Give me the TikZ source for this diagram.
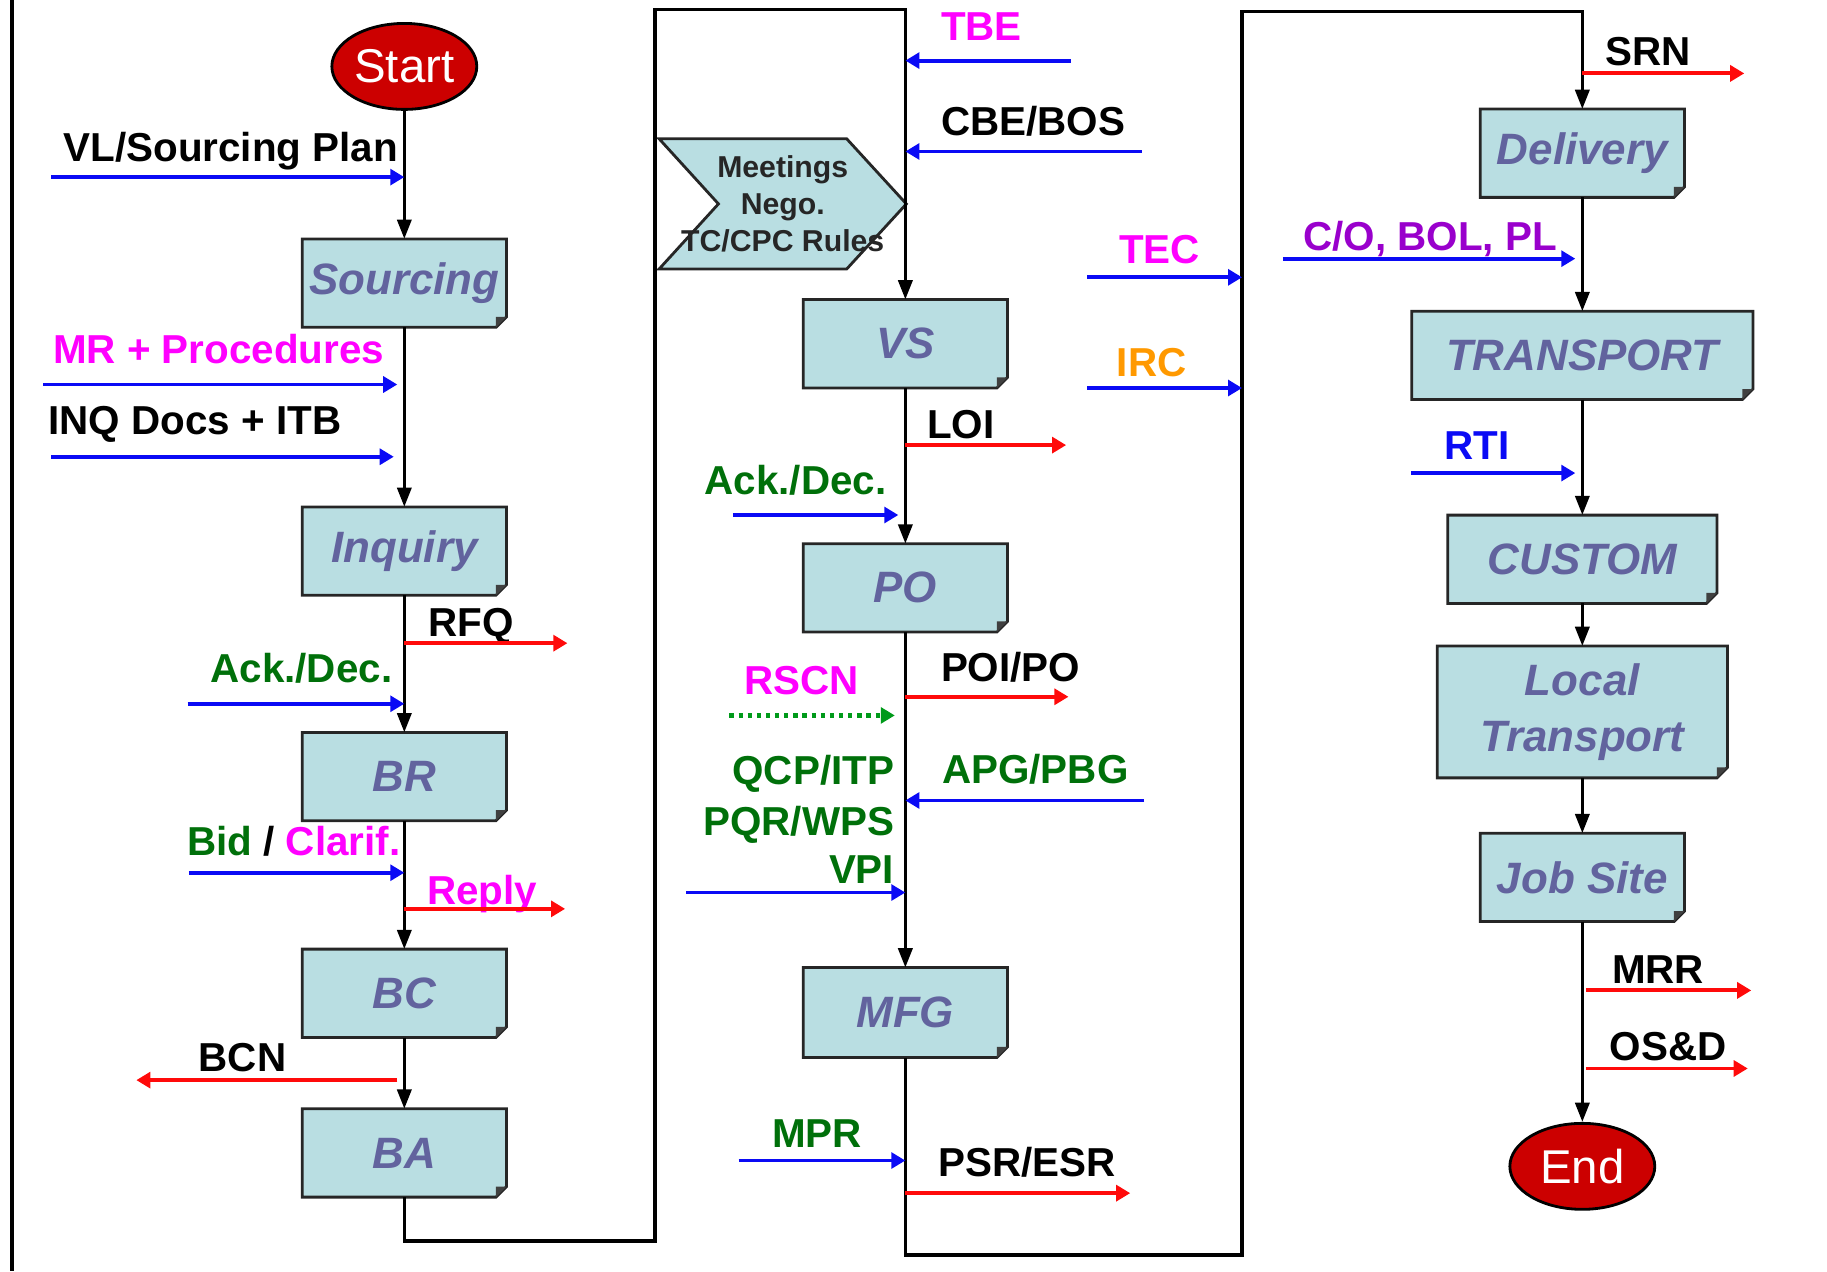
\documentclass[tikz,border=0pt]{standalone}
\usepackage{fontspec}
\setmainfont{Liberation Sans}
\usetikzlibrary{arrows.meta,shapes.geometric,backgrounds}
\definecolor{boxfill}{HTML}{B9DEE2}
\definecolor{boxtext}{HTML}{62639E}
\definecolor{termred}{HTML}{CC0000}
\definecolor{inblue}{HTML}{0A0AF5}
\definecolor{outred}{HTML}{FF0A0A}
\definecolor{lblgreen}{HTML}{00700A}
\definecolor{lblmag}{HTML}{FF00FF}
\definecolor{lblorange}{HTML}{FF9900}
\definecolor{lblpurple}{HTML}{9900CC}
\definecolor{dotgreen}{HTML}{009A1A}

\begin{document}
\begin{tikzpicture}[x=0.011652cm, y=-0.011652cm,
    box/.style={rectangle, fill=boxfill, minimum width=2.03cm, minimum height=0.87cm, inner sep=1pt, text=boxtext, font=\fontsize{12.5}{16}\selectfont\bfseries\itshape},
    term/.style={ellipse, draw=black, line width=0.8pt, fill=termred, text=white, minimum width=1.45cm, minimum height=0.86cm, inner sep=0pt, font=\fontsize{13.5}{15}\selectfont},
    chev/.style={rectangle, minimum width=2.46cm, minimum height=1.29cm, inner sep=0pt, align=center, text=black!85, font=\fontsize{8.6}{10.6}\selectfont\bfseries},
    lbl/.style={anchor=base west, inner sep=0pt, font=\fontsize{11.5}{13}\selectfont\bfseries},
    flow/.style={-{Triangle[length=5.5pt,width=4pt]}, line width=1pt},
    inarrow/.style={-{Triangle[length=4pt,width=4.5pt]}, line width=1.1pt, color=inblue},
    outarrow/.style={-{Triangle[length=4pt,width=4.5pt]}, line width=1.1pt, color=outred},
    boxline/.style={draw=black!85, line width=0.8pt}
]
\useasboundingbox (0,0) rectangle (1568,1091);

% left edge
\coordinate (edgeTop) at (10,0);
\coordinate (edgeBot) at (10,1091);
\draw[line width=1.2pt] (edgeTop) -- (edgeBot);

% column 1
\node[term] (start) at (347,57) {Start};
\node[box] (src) at (347,243) {Sourcing};
\node[box] (inq) at (347,473) {Inquiry};
\node[box] (br) at (347,666.5) {BR};
\node[box] (bc) at (347,852.5) {BC};
\node[box] (ba) at (347,989.5) {BA};

% column 2
\node[chev] (meet) at (671.75,175) {Meetings\\Nego.\\TC/CPC Rules};
\begin{scope}[on background layer]
  \filldraw[boxline, fill=boxfill] (meet.north west) -- ([xshift=-17pt]meet.north east) -- (meet.east)
    -- ([xshift=-17pt]meet.south east) -- (meet.south west) -- ([xshift=16.9pt]meet.west) -- cycle;
\end{scope}
\node[box] (vs) at (777,295) {VS};
\node[box] (po) at (777,504.5) {PO};
\node[box, minimum height=0.886cm] (mfg) at (777,869) {MFG};

% column 3
\node[box] (dlv) at (1358,131.5) {Delivery};
\node[box, minimum width=3.40cm] (trn) at (1358,305) {TRANSPORT};
\node[box, minimum width=2.68cm] (cus) at (1358,480) {CUSTOM};
\node[box, minimum width=2.89cm, minimum height=1.305cm, align=center] (ltr) at (1358,611) {Local\\Transport};
\node[box] (job) at (1358,753) {Job Site};
\node[term] (end) at (1358,1001) {End};

% dog-eared outlines
\foreach \b in {src,inq,br,bc,ba,vs,po,mfg,dlv,trn,cus,ltr,job} {
  \fill[white] ([xshift=-3pt]\b.south east) -- (\b.south east) -- ([yshift=3pt]\b.south east) -- cycle;
  \draw[boxline] (\b.north west) -- (\b.north east) -- ([yshift=3pt]\b.south east) -- ([xshift=-3pt]\b.south east) -- (\b.south west) -- cycle;
  \fill[black!75] ([yshift=3pt]\b.south east) -- ([xshift=-3pt]\b.south east) -- ([xshift=-3pt,yshift=3pt]\b.south east) -- cycle;
}

% main flow
\coordinate (bendA) at (562,1065);
\coordinate (bendB) at (562,8);
\coordinate (bendC) at (1066,1077);
\coordinate (bendD) at (1066,10);
\draw[flow] (start) -- (src);
\draw[flow] (src) -- (inq);
\draw[flow] (inq) -- (br);
\draw[flow] (br) -- (bc);
\draw[flow] (bc) -- (ba);
\draw[flow] (ba.south) |- (bendA) -- (bendB) -| (vs.north);
\draw[flow] (vs) -- (po);
\draw[flow] (po) -- (mfg);
\draw[flow] (mfg.south) |- (bendC) -- (bendD) -| (dlv.north);
\draw[flow] (dlv) -- (trn);
\draw[flow] (trn) -- (cus);
\draw[flow] (cus) -- (ltr);
\draw[flow] (ltr) -- (job);
\draw[flow] (job) -- (end);

% column 1 documents
\node[lbl] (vlLbl) at (54,139) {VL/Sourcing Plan};
\coordinate (vlIn) at (44,152);
\draw[inarrow] (vlIn) -- (vlIn -| start);
\node[lbl, text=lblmag] (mrLbl) at (45,312) {MR + Procedures};
\coordinate (mrIn) at (37,330);
\draw[inarrow, shorten >=2pt] (mrIn) -- (mrIn -| src);
\node[lbl] (inqLbl) at (41,373) {INQ Docs + ITB};
\coordinate (inqIn) at (44,392);
\draw[inarrow, shorten >=3pt] (inqIn) -- (inqIn -| src);
\node[lbl] (rfqLbl) at (367,546) {RFQ};
\coordinate (rfqOut) at (487,552);
\draw[outarrow] (rfqOut -| inq) -- (rfqOut);
\node[lbl, text=lblgreen] (ackLbl) at (180,586) {Ack./Dec.};
\coordinate (ackIn) at (161,604);
\draw[inarrow] (ackIn) -- (ackIn -| inq);
\node[lbl] (bidLbl) at (160,734) {\textcolor{lblgreen}{Bid} / \textcolor{lblmag}{Clarif.}};
\coordinate (bidIn) at (162,749);
\draw[inarrow] (bidIn) -- (bidIn -| br);
\node[lbl, text=lblmag] (replyLbl) at (366,776) {Reply};
\coordinate (replyOut) at (485,780);
\draw[outarrow] (replyOut -| br) -- (replyOut);
\node[lbl] (bcnLbl) at (170,920) {BCN};
\coordinate (bcnOut) at (117,927);
\draw[outarrow, shorten <=2pt] (bcnOut -| bc) -- (bcnOut);

% column 2 documents
\node[lbl, text=lblmag] (tbeLbl) at (807,35) {TBE};
\coordinate (tbeIn) at (919,52);
\draw[inarrow] (tbeIn) -- (tbeIn -| vs);
\node[lbl] (cbeLbl) at (807,116) {CBE/BOS};
\coordinate (cbeIn) at (980,130);
\draw[inarrow] (cbeIn) -- (cbeIn -| vs);
\node[lbl, text=lblmag] (tecLbl) at (960,226) {TEC};
\coordinate (tecIn) at (933,238);
\draw[inarrow] (tecIn) -- (tecIn -| bendD);
\node[lbl, text=lblorange] (ircLbl) at (958,323) {IRC};
\coordinate (ircIn) at (933,333);
\draw[inarrow] (ircIn) -- (ircIn -| bendD);
\node[lbl] (loiLbl) at (795,376) {LOI};
\coordinate (loiOut) at (915,382);
\draw[outarrow] (loiOut -| vs) -- (loiOut);
\node[lbl, text=lblgreen] (ack2Lbl) at (604,424) {Ack./Dec.};
\coordinate (ack2In) at (629,442);
\draw[inarrow, shorten >=2pt] (ack2In) -- (ack2In -| vs);
\node[lbl] (poiLbl) at (807,585) {POI/PO};
\coordinate (poiOut) at (917,598);
\draw[outarrow] (poiOut -| po) -- (poiOut);
\node[lbl, text=lblmag] (rscnLbl) at (638,596) {RSCN};
\coordinate (rscnIn) at (626,614);
\draw[-{Triangle[length=4pt,width=4.5pt]}, line width=1.3pt, dash pattern=on 1.2pt off 1.4pt, dotgreen, shorten >=3pt] (rscnIn) -- (rscnIn -| po);
\node[lbl, anchor=base east, text=lblgreen] (qcpLbl) at (768,673) {QCP/ITP};
\node[lbl, anchor=base east, text=lblgreen] (pqrLbl) at (768,717) {PQR/WPS};
\node[lbl, anchor=base east, text=lblgreen] (vpiLbl) at (768,758) {VPI};
\coordinate (vpiIn) at (589,766);
\draw[inarrow] (vpiIn) -- (vpiIn -| po);
\node[lbl, text=lblgreen] (apgLbl) at (808,672) {APG/PBG};
\coordinate (apgIn) at (982,687);
\draw[inarrow] (apgIn) -- (apgIn -| po);
\node[lbl, text=lblgreen] (mprLbl) at (662,985) {MPR};
\coordinate (mprIn) at (634,996);
\draw[inarrow] (mprIn) -- (mprIn -| mfg);
\node[lbl] (psrLbl) at (805,1010) {PSR/ESR};
\coordinate (psrOut) at (970,1024);
\draw[outarrow] (psrOut -| mfg) -- (psrOut);

% column 3 documents
\node[lbl] (srnLbl) at (1377,56) {SRN};
\coordinate (srnOut) at (1497,63);
\draw[outarrow] (srnOut -| dlv) -- (srnOut);
\node[lbl, text=lblpurple] (coLbl) at (1118,215) {C/O, BOL, PL};
\coordinate (coIn) at (1101,222);
\draw[inarrow, shorten >=2pt] (coIn) -- (coIn -| dlv);
\node[lbl, text=inblue] (rtiLbl) at (1239,394) {RTI};
\coordinate (rtiIn) at (1211,406);
\draw[inarrow, shorten >=2pt] (rtiIn) -- (rtiIn -| trn);
\node[lbl] (mrrLbl) at (1383,844) {MRR};
\coordinate (mrrOut) at (1503,850);
\draw[outarrow, shorten <=1pt] (mrrOut -| job) -- (mrrOut);
\node[lbl] (osdLbl) at (1381,910) {OS\&D};
\coordinate (osdOut) at (1500,917);
\draw[outarrow, shorten <=1pt] (osdOut -| job) -- (osdOut);
\end{tikzpicture}
\end{document}
